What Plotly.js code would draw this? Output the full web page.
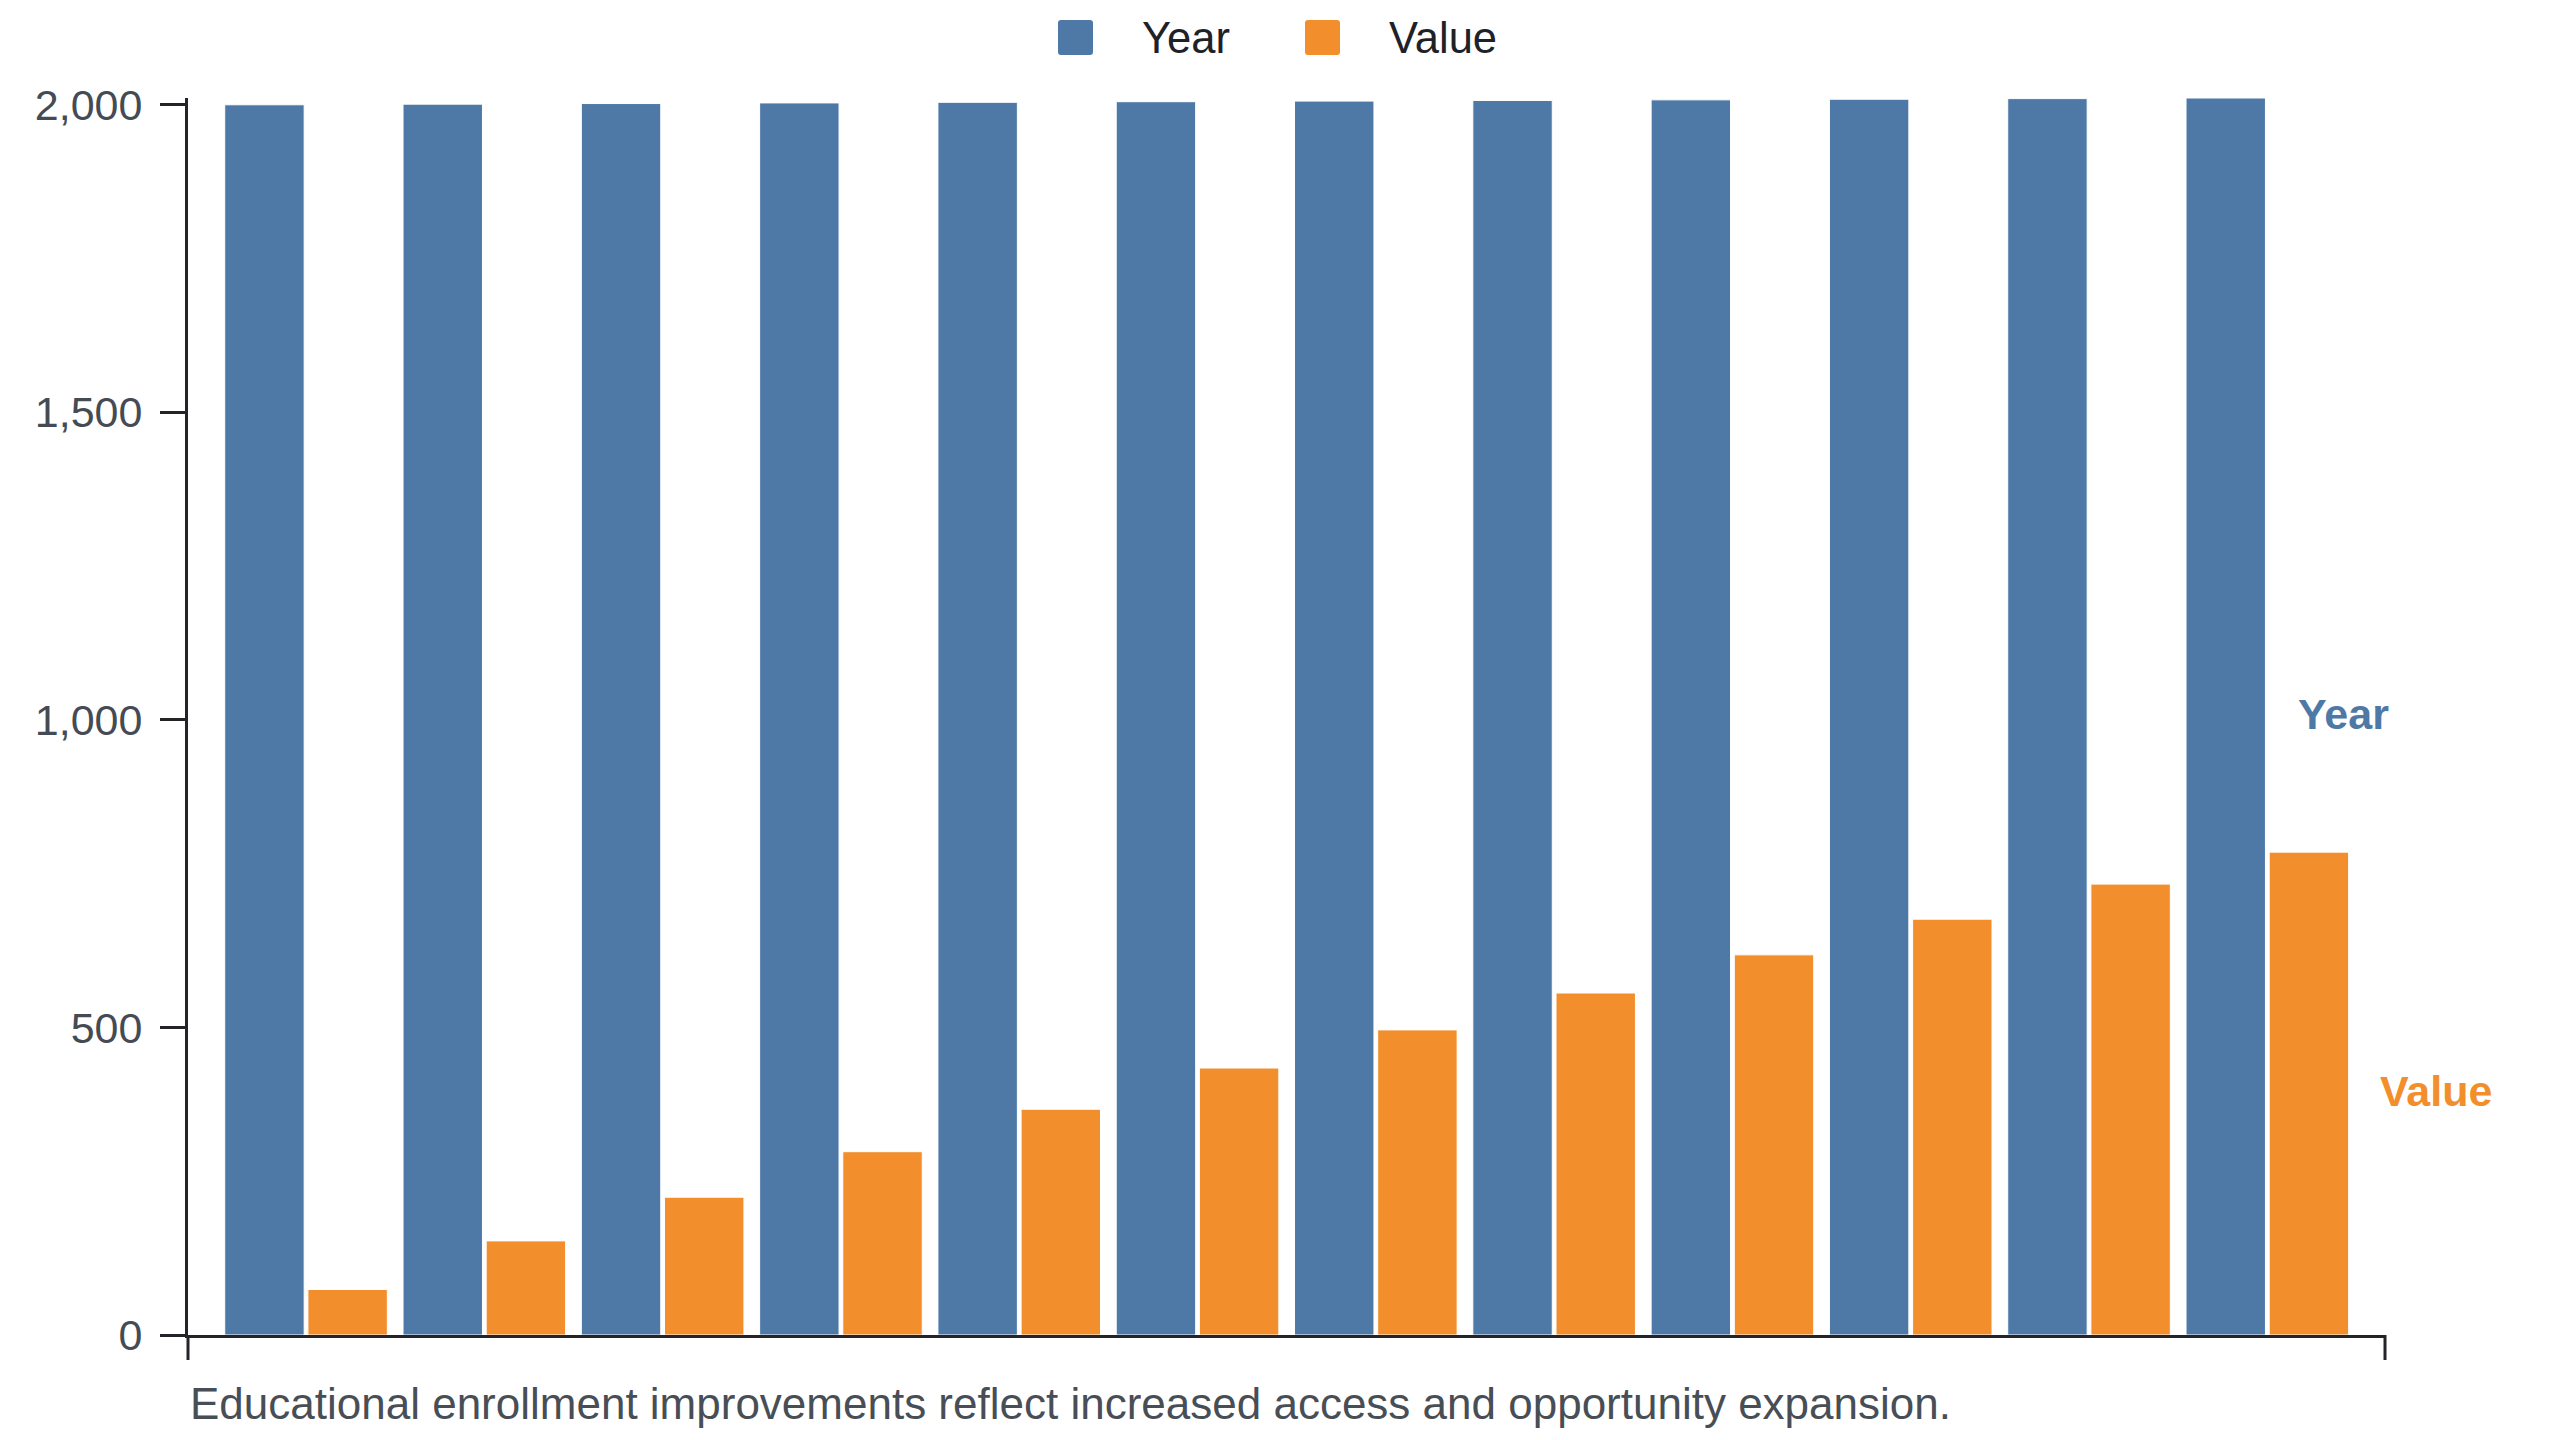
<!DOCTYPE html>
<html>
<head>
<meta charset="utf-8">
<script src="https://cdn.plot.ly/plotly-3.0.1.min.js"></script>
<style>
  html, body { margin: 0; padding: 0; background: #ffffff; }
  #chart { width: 2560px; height: 1440px; }
</style>
</head>
<body>
<div id="chart"></div>
<script>
// data
var categories = ['2000', '2001', '2002', '2003', '2004', '2005', '2006', '2007', '2008', '2009', '2010', '2011'];
var yearSeries = [2000, 2001, 2002, 2003, 2004, 2005, 2006, 2007, 2008, 2009, 2010, 2011];
var valueSeries = [74, 153, 224, 298, 367, 434, 496, 556, 618, 676, 733, 785];
var seriesNames = ['Year', 'Value'];
var seriesColors = ['#4e79a7', '#f28e2b'];
var yTicks = [0, 500, 1000, 1500, 2000];
var caption = 'Educational enrollment improvements reflect increased access and opportunity expansion.';

var W = 2560, H = 1440;
var mL = 188, mR = 175, mT = 98, mB = 105;
var fontFam = 'Liberation Sans, Arial, Helvetica, sans-serif';

// pixel -> paper helpers (for legend + caption only)
function px2x(px) { return (px - mL) / (W - mL - mR); }
function px2y(py) { return (H - mB - py) / (H - mT - mB); }

function roundRect(w, h, r) {
    return 'M' + r + ',0 H' + (w - r) + ' Q' + w + ',0 ' + w + ',' + r +
        ' V' + (h - r) + ' Q' + w + ',' + h + ' ' + (w - r) + ',' + h +
        ' H' + r + ' Q0,' + h + ' 0,' + (h - r) + ' V' + r + ' Q0,0 ' + r + ',0 Z';
}

var yearTrace = {
    x: categories,
    y: yearSeries,
    name: seriesNames[0],
    type: 'bar',
    marker: { color: seriesColors[0], line: { color: '#ffffff', width: 1 } },
    hoverinfo: 'skip'
};

var valueTrace = {
    x: categories,
    y: valueSeries,
    name: seriesNames[1],
    type: 'bar',
    marker: { color: seriesColors[1], line: { color: '#ffffff', width: 1 } },
    hoverinfo: 'skip'
};

var last = categories.length - 1;

var annotations = [
    // direct labels at mid height of the last bars (x as category index)
    {
        x: last, y: yearSeries[last] / 2, xref: 'x', yref: 'y',
        xanchor: 'left', yanchor: 'middle', xshift: 29, yshift: 3, showarrow: false,
        text: '<b>' + seriesNames[0] + '</b>',
        font: { family: fontFam, size: 43, color: seriesColors[0] }
    },
    {
        x: last, y: valueSeries[last] / 2, xref: 'x', yref: 'y',
        xanchor: 'left', yanchor: 'middle', xshift: 111, yshift: 3, showarrow: false,
        text: '<b>' + seriesNames[1] + '</b>',
        font: { family: fontFam, size: 43, color: seriesColors[1] }
    },
    // caption
    {
        x: 0, y: 0, xref: 'paper', yref: 'paper', xanchor: 'left', yanchor: 'top',
        yshift: -42, showarrow: false, text: caption,
        font: { family: fontFam, size: 44, color: '#484e56' }
    },
    // legend texts
    {
        x: px2x(1140), y: px2y(38), xref: 'paper', yref: 'paper',
        xanchor: 'left', yanchor: 'middle', showarrow: false, text: seriesNames[0],
        font: { family: fontFam, size: 43.5, color: '#1e2227' }
    },
    {
        x: px2x(1387), y: px2y(38), xref: 'paper', yref: 'paper',
        xanchor: 'left', yanchor: 'middle', showarrow: false, text: seriesNames[1],
        font: { family: fontFam, size: 43.5, color: '#1e2227' }
    }
];

var shapes = [
    // outer ticks at both ends of the x domain
    {
        type: 'line', xref: 'paper', yref: 'paper', x0: 0, x1: 0,
        ysizemode: 'pixel', yanchor: 0, y0: 0, y1: -25,
        line: { color: '#222428', width: 3 }
    },
    {
        type: 'line', xref: 'paper', yref: 'paper', x0: 1, x1: 1,
        ysizemode: 'pixel', yanchor: 0, y0: 0, y1: -25,
        line: { color: '#222428', width: 3 }
    },
    // legend swatches
    {
        type: 'path', xref: 'paper', yref: 'paper',
        xsizemode: 'pixel', ysizemode: 'pixel', xanchor: px2x(1058), yanchor: px2y(55),
        path: roundRect(35, 35, 3), fillcolor: seriesColors[0], line: { width: 0 }
    },
    {
        type: 'path', xref: 'paper', yref: 'paper',
        xsizemode: 'pixel', ysizemode: 'pixel', xanchor: px2x(1305), yanchor: px2y(55),
        path: roundRect(35, 35, 3), fillcolor: seriesColors[1], line: { width: 0 }
    }
];

var layout = {
    width: W,
    height: H,
    margin: { l: mL, r: mR, t: mT, b: mB, pad: 0 },
    paper_bgcolor: '#ffffff',
    plot_bgcolor: '#ffffff',
    showlegend: false,
    barmode: 'group',
    bargap: 0.067,
    bargroupgap: 0.045,
    font: { family: fontFam, size: 43, color: '#454b54' },
    xaxis: {
        type: 'category',
        range: [-0.662, last + 0.66],
        showticklabels: false,
        ticks: '',
        showgrid: false,
        zeroline: false,
        showline: true,
        linecolor: '#222428',
        linewidth: 3
    },
    yaxis: {
        range: [0, yearSeries[last]],
        tickvals: yTicks,
        tickformat: ',d',
        ticks: 'outside',
        ticklen: 25,
        tickwidth: 3,
        tickcolor: '#222428',
        ticklabelstandoff: 9,
        tickfont: { family: fontFam, size: 43, color: '#454b54' },
        showgrid: false,
        zeroline: false,
        showline: true,
        linecolor: '#222428',
        linewidth: 3
    },
    annotations: annotations,
    shapes: shapes
};

Plotly.newPlot('chart', [yearTrace, valueTrace], layout, { staticPlot: true });
</script>
</body>
</html>
